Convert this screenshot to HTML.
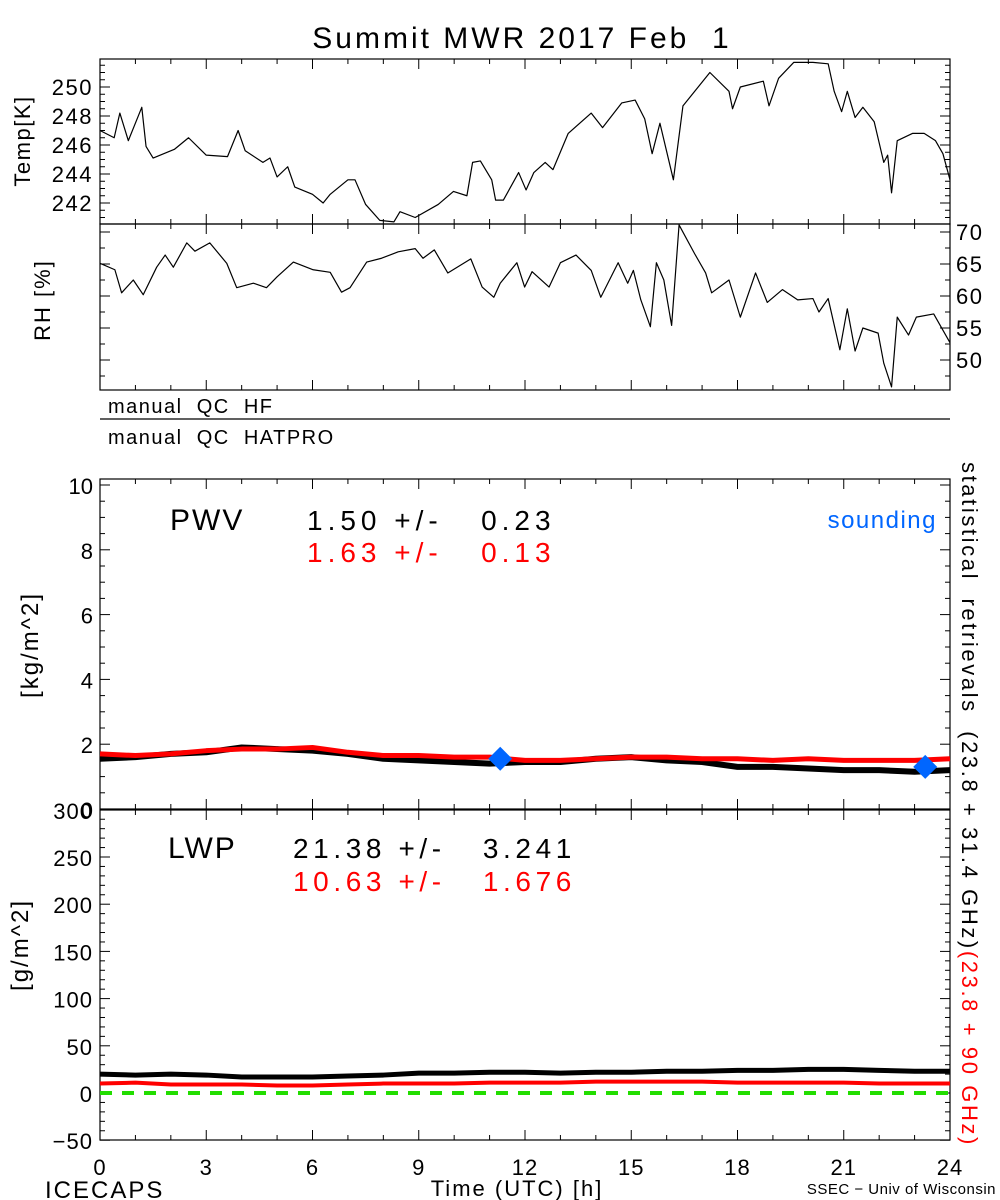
<!DOCTYPE html>
<html><head><meta charset="utf-8"><style>
html,body{margin:0;padding:0;background:#fff;}
svg{display:block;font-family:"Liberation Sans",sans-serif;}
svg text{white-space:pre;}
</style></head><body>
<svg id="c" width="1000" height="1200" xmlns="http://www.w3.org/2000/svg"></svg>
<script>
const tempHours=[0,0.4,0.56,0.8,1.18,1.3,1.5,2.1,2.5,3.0,3.6,3.9,4.1,4.6,4.8,5.0,5.3,5.5,6.0,6.3,6.5,7.0,7.2,7.5,7.9,8.3,8.47,8.9,9.55,9.98,10.36,10.52,10.74,11.06,11.17,11.39,11.82,12.03,12.25,12.57,12.79,13.22,13.87,14.19,14.73,15.11,15.38,15.59,15.81,16.19,16.46,17.22,17.76,17.86,18.08,18.73,18.89,19.16,19.59,20.13,20.56,20.73,20.94,21.10,21.32,21.54,21.86,22.13,22.24,22.35,22.51,22.94,23.27,23.59,23.80,24.0];
const tempValues=[247.0,246.5,248.2,246.3,248.6,245.9,245.1,245.7,246.5,245.3,245.2,247.0,245.6,244.8,245.1,243.8,244.5,243.1,242.6,242.0,242.6,243.6,243.6,241.9,240.8,240.7,241.4,241.0,241.9,242.8,242.5,244.8,244.9,243.6,242.2,242.2,244.1,242.9,244.1,244.8,244.3,246.8,248.2,247.2,248.9,249.1,247.8,245.4,247.5,243.6,248.7,251.0,249.7,248.5,250.0,250.4,248.7,250.6,251.7,251.7,251.6,249.7,248.3,249.7,247.9,248.6,247.6,244.8,245.3,242.7,246.3,246.8,246.8,246.3,245.4,243.6];
const rhHours=[0,0.42,0.61,0.94,1.22,1.6,1.84,2.07,2.45,2.68,3.1,3.58,3.86,4.33,4.7,5.0,5.46,6.02,6.5,6.82,7.06,7.53,7.95,8.42,8.9,9.12,9.44,9.82,10.47,10.79,11.12,11.3,11.77,11.99,12.2,12.68,13.0,13.44,13.87,14.14,14.63,14.9,15.06,15.27,15.54,15.71,15.92,16.14,16.35,16.79,17.1,17.27,17.76,18.08,18.51,18.84,19.27,19.7,20.13,20.3,20.56,20.89,21.1,21.32,21.54,21.97,22.13,22.35,22.51,22.83,23.05,23.54,24.0];
const rhValues=[65.1,64.1,60.5,62.5,60.2,64.5,66.4,64.5,68.3,67.0,68.3,65.1,61.3,62.0,61.3,63.0,65.3,64.1,63.7,60.6,61.3,65.3,65.9,66.9,67.4,65.9,67.2,63.6,65.8,61.4,59.8,62.0,65.2,61.4,63.8,61.4,65.2,66.4,64.0,59.8,65.2,62.0,64.0,59.4,55.2,65.2,62.5,55.4,71.1,66.6,63.6,60.5,62.5,56.7,63.6,59.0,61.0,59.4,59.6,57.5,59.6,51.6,58.0,51.4,55.0,54.2,49.5,45.8,56.7,53.9,56.7,57.2,52.7];
const hourly=[0,1,2,3,4,5,6,7,8,9,10,11,12,13,14,15,16,17,18,19,20,21,22,23,24];
const pwvBlack=[1.55,1.6,1.7,1.75,1.9,1.85,1.8,1.7,1.55,1.5,1.45,1.4,1.45,1.45,1.55,1.6,1.5,1.45,1.3,1.3,1.25,1.2,1.2,1.15,1.2];
const pwvRed=[1.7,1.65,1.7,1.8,1.85,1.85,1.9,1.75,1.65,1.65,1.6,1.6,1.5,1.5,1.55,1.6,1.6,1.55,1.55,1.5,1.55,1.5,1.5,1.5,1.55];
const soundHours=[11.3,23.3];
const soundPwv=[1.55,1.3];
const lwpBlack=[20,19,20,19,17,17,17,18,19,21,21,22,22,21,22,22,23,23,24,24,25,25,24,23,23];
const lwpRed=[10,11,9,9,9,8,8,9,10,10,10,11,11,11,12,12,12,12,11,11,11,11,10,10,10];
const xTickLabels=[0,3,6,9,12,15,18,21,24];
const tempTicks=[242,244,246,248,250];
const rhTicks=[50,55,60,65,70];
const pwvTicks=[0,2,4,6,8,10];
const lwpTicks=[-50,0,50,100,150,200,250,300];

const svg=document.getElementById('c');
const NS='http://www.w3.org/2000/svg';
function mk(tag,attrs,parent){const e=document.createElementNS(NS,tag);for(const k in attrs)e.setAttribute(k,attrs[k]);(parent||svg).appendChild(e);return e;}
const X0=100,X1=950;
const xs=h=>X0+(X1-X0)*h/24;
const lin=(v0,y0,v1,y1)=>v=>y0+(v-v0)*(y1-y0)/(v1-v0);
const yT=lin(250,87,242,203), yR=lin(65,264,50,360), yP=lin(0,809,10,485), yL=lin(0,1093,250,857);

function txt(s,x,y,size,anchor,fill,name,ls){const t=mk('text',{x:x,y:y,'font-size':size,'text-anchor':anchor||'start',fill:fill||'#000','letter-spacing':ls||0});t.textContent=s;

return t;}
function frame(top,bot,name){const r=mk('rect',{x:X0,y:top,width:X1-X0,height:bot-top,fill:'none',stroke:'#000','stroke-width':1.2});


for(let h=0;h<=24;h++){const L=h%3===0?10:5;mk('line',{x1:xs(h),x2:xs(h),y1:top,y2:top+L,stroke:'#000'});mk('line',{x1:xs(h),x2:xs(h),y1:bot,y2:bot-L,stroke:'#000'});}}
function yTicks(f,v0,v1,minor,major,top,bot,left,right){for(let v=v0;v<=v1+1e-6;v+=minor){const y=f(v);if(y<top-0.5||y>bot+0.5)continue;const isM=Math.abs(v/major-Math.round(v/major))<1e-6;const L=isM?10:5;if(left)mk('line',{x1:X0,x2:X0+L,y1:y,y2:y,stroke:'#000'});if(right)mk('line',{x1:X1,x2:X1-L,y1:y,y2:y,stroke:'#000'});}}
function line(hs,vs,f,color,w,name){const p=mk('polyline',{points:hs.map((h,i)=>xs(h)+','+f(vs[i])).join(' '),fill:'none',stroke:color,'stroke-width':w,'stroke-linejoin':'round'});

}

txt('Summit MWR 2017 Feb  1',522,48,30,'middle','#000','chart-title',3);
frame(59,224,'temp-panel');
yTicks(yT,240,252,0.5,2,59,224,true,true);
tempTicks.forEach(v=>txt(String(v),93,yT(v)+8,22,'end','#000','temp-tick-label',1.5));
line(tempHours,tempValues,yT,'#000',1.2,'temp-line');
const tl=txt('Temp[K]',0,0,22,'middle','#000','temp-axis-title',1.5);tl.setAttribute('transform','translate(30,141) rotate(-90)');
frame(224,390,'rh-panel');
yTicks(yR,45,72,2.5,5,224,390,true,true);
rhTicks.forEach(v=>txt(String(v),956,yR(v)+8,22,'start','#000','rh-tick-label',1.5));
line(rhHours,rhValues,yR,'#000',1.2,'rh-line');
const rl=txt('RH [%]',0,0,22,'middle','#000','rh-axis-title',2);rl.setAttribute('transform','translate(50,300) rotate(-90)');
mk('line',{x1:X0,x2:X1,y1:419,y2:419,stroke:'#000','stroke-width':1.2});
txt('manual  QC  HF',108,413,20,'start','#000','qc-hf-label',1.5);
txt('manual  QC  HATPRO',108,444,20,'start','#000','qc-hatpro-label',1.5);
frame(479,809,'pwv-panel');
yTicks(yP,0,10.2,0.5,2,479,809,true,true);
pwvTicks.forEach(v=>txt(String(v),93,yP(v)+9,22,'end','#000','pwv-tick-label'));
line(hourly,pwvBlack,yP,'#000',6,'pwv-black-line');
line(hourly,pwvRed,yP,'#f00',5,'pwv-red-line');
soundHours.forEach((h,i)=>{const cx=xs(h),cy=yP(soundPwv[i]);const d=mk('polygon',{points:`${cx},${cy-12} ${cx+12},${cy} ${cx},${cy+12} ${cx-12},${cy}`,fill:'#0066ff'});

});
txt('PWV',170,530,30,'start','#000','pwv-label',2);
txt('1.50 +/-   0.23',307,530,28,'start','#000','pwv-stats-black',5);
txt('1.63 +/-   0.13',307,562,28,'start','#f00','pwv-stats-red',5);
txt('sounding',937,528,24,'end','#0066ff','sounding-legend',1.5);
const pl=txt('[kg/m^2]',0,0,24,'middle','#000','pwv-axis-title',2);pl.setAttribute('transform','translate(38,645) rotate(-90)');
frame(810,1140,'lwp-panel');
yTicks(yL,-50,300,10,50,810,1140,true,true);
lwpTicks.forEach(v=>txt(v<0?'\u2212'+Math.abs(v):String(v),93,yL(v)+9,22,'end','#000','lwp-tick-label',1));
mk('line',{x1:X0,x2:X1,y1:yL(0),y2:yL(0),stroke:'#22dd00','stroke-width':4,'stroke-dasharray':'12,10'});
line(hourly,lwpBlack,yL,'#000',5,'lwp-black-line');
line(hourly,lwpRed,yL,'#f00',4,'lwp-red-line');
txt('LWP',168,858,30,'start','#000','lwp-label',2);
txt('21.38 +/-   3.241',293,858,28,'start','#000','lwp-stats-black',4.6);
txt('10.63 +/-   1.676',293,891,28,'start','#f00','lwp-stats-red',4.6);
const ll=txt('[g/m^2]',0,0,24,'middle','#000','lwp-axis-title',2);ll.setAttribute('transform','translate(28,945) rotate(-90)');
xTickLabels.forEach(h=>txt(String(h),xs(h),1175,22,'middle','#000','x-tick-label',1));
txt('Time (UTC) [h]',517,1196,22,'middle','#000','x-axis-title',2);
txt('ICECAPS',45,1198,24,'start','#000','icecaps-label',2);
txt('SSEC \u2212 Univ of Wisconsin',996,1194,15,'end','#000','ssec-credit',0.5);
const rv=mk('text',{'font-size':22,transform:'translate(962,462) rotate(90)','letter-spacing':2.6});


const t1=mk('tspan',{fill:'#000'},rv);t1.textContent='statistical  retrievals  (23.8 + 31.4 GHz)';
const t2=mk('tspan',{fill:'#f00'},rv);t2.textContent='(23.8 + 90 GHz)';
</script>
</body></html>
